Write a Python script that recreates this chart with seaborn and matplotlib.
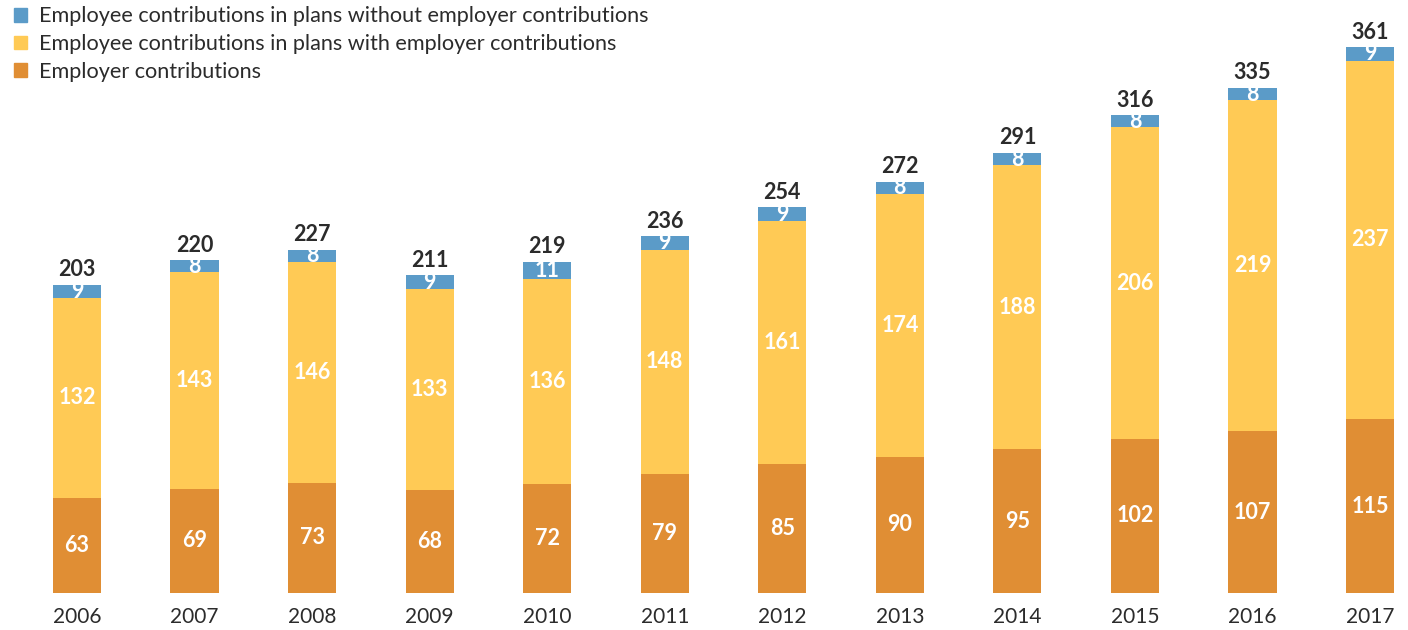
import matplotlib
matplotlib.use("Agg")
import matplotlib.pyplot as plt
import seaborn as sns
import pandas as pd
from matplotlib.patches import Patch

years = ["2006", "2007", "2008", "2009", "2010", "2011", "2012", "2013", "2014", "2015", "2016", "2017"]
employer = [63, 69, 73, 68, 72, 79, 85, 90, 95, 102, 107, 115]
emp_with = [132, 143, 146, 133, 136, 148, 161, 174, 188, 206, 219, 237]
emp_without = [9, 8, 8, 9, 11, 9, 9, 8, 8, 8, 8, 9]
totals = [203, 220, 227, 211, 219, 236, 254, 272, 291, 316, 335, 361]
legend_labels = ["Employee contributions in plans without employer contributions",
                 "Employee contributions in plans with employer contributions",
                 "Employer contributions"]

C_BLUE = "#5B9BC8"
C_YEL = "#FFCA55"
C_ORA = "#E08E34"
C_TXT = "#2b2b2b"

sns.set_theme(style="white")
plt.rcParams['font.family'] = ['Lato', 'DejaVu Sans']

df = pd.DataFrame({"year": years, "employer": employer, "with": emp_with, "without": emp_without})
df["b2"] = [a + b for a, b in zip(employer, emp_with)]

W, H = 1408, 630
fig = plt.figure(figsize=(W / 100, H / 100), dpi=100)
ax = fig.add_axes([0, 1 - 593 / H, 1, 593 / H])

bw = 0.41
sns.barplot(data=df, x="year", y="employer", color=C_ORA, width=bw, saturation=1, ax=ax, linewidth=0)
sns.barplot(data=df, x="year", y="with", color=C_YEL, width=bw, saturation=1, ax=ax, linewidth=0, bottom=df["employer"])
sns.barplot(data=df, x="year", y="without", color=C_BLUE, width=bw, saturation=1, ax=ax, linewidth=0, bottom=df["b2"])

step = 117.55
ax.set_xlim(-77 / step, (W - 77) / step)
ax.set_ylim(0, 593 / 1.512)

for i in range(len(years)):
    e, w, o, t = employer[i], emp_with[i], emp_without[i], totals[i]
    ax.text(i, e / 2, str(e), ha="center", va="center", color="white", fontsize=15.5, fontweight="bold")
    ax.text(i, e + w / 2, str(w), ha="center", va="center", color="white", fontsize=15.5, fontweight="bold")
    ax.text(i, e + w + o / 2, str(o), ha="center", va="center", color="white", fontsize=15.5, fontweight="bold")
    ax.text(i, e + w + o + 3, str(t), ha="center", va="bottom", color=C_TXT, fontsize=15.5, fontweight="bold")

for s in ax.spines.values():
    s.set_visible(False)
ax.set_yticks([])
ax.set_xlabel("")
ax.set_ylabel("")
ax.tick_params(axis="x", length=0, pad=10, labelsize=15, labelcolor=C_TXT)

handles = [Patch(color=C_BLUE), Patch(color=C_YEL), Patch(color=C_ORA)]
fig.legend(handles, legend_labels, loc="upper left", bbox_to_anchor=(-0.001, 1.014), frameon=False,
           fontsize=15.6, handlelength=0.6, handleheight=0.6, handletextpad=0.55, labelspacing=0.36,
           labelcolor=C_TXT, borderaxespad=0.3)

fig.savefig("out.png", dpi=100)
